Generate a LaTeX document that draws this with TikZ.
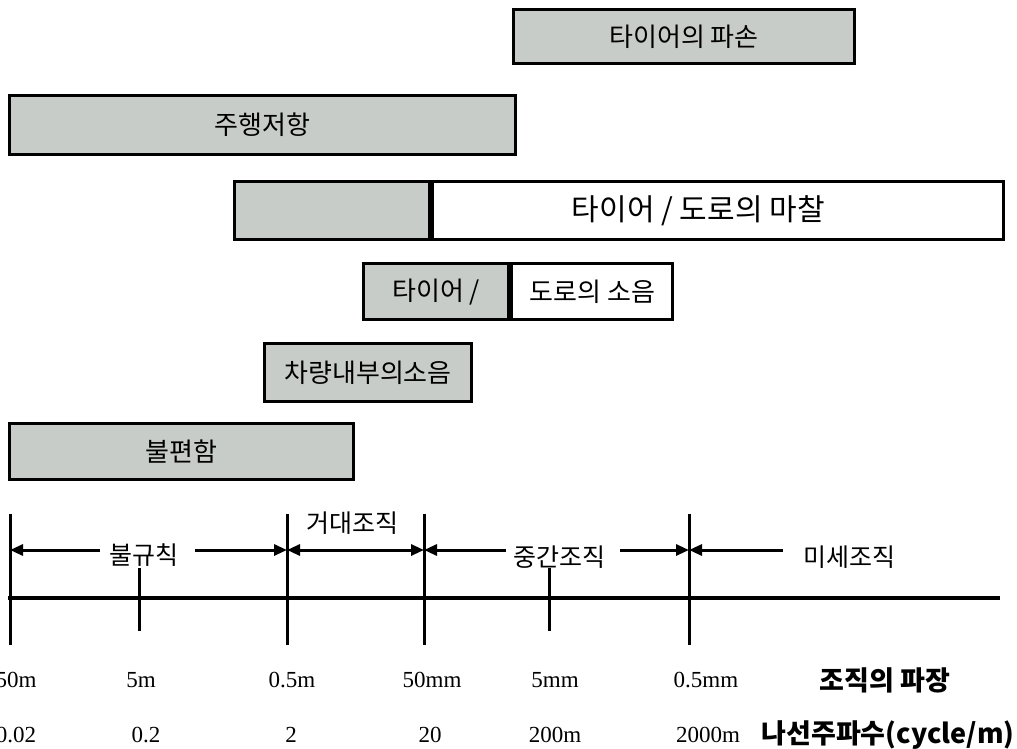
\documentclass[tikz,border=0pt]{standalone}
\usepackage{fontspec}
\setmainfont{Liberation Serif}
\newfontfamily\krfont{Noto Sans CJK KR}
\usetikzlibrary{positioning, arrows.meta}
\definecolor{barfill}{RGB}{200,204,200}

\begin{document}
\begin{tikzpicture}[
    x=1pt, y=-1pt,
    bar/.style={
      draw=black,
      line width=3.2pt,
      fill=barfill,
      anchor=north west,
      inner sep=0pt,
      font=\krfont\fontsize{26}{28}\selectfont
    },
    part/.style={
      bar,
      fill=white
    },
    axis/.style={line width=4pt},
    tick/.style={line width=3pt},
    arr/.style={line width=3pt, -{Triangle[length=13pt,width=11pt]}},
    zone/.style={font=\krfont\fontsize{25}{27}\selectfont, inner sep=0pt},
    val/.style={font=\fontsize{23}{25}\selectfont, inner sep=0pt},
    head/.style={font=\krfont\bfseries\fontsize{27}{29}\selectfont, inner sep=0pt}
  ]
  \useasboundingbox (0,0) rectangle (1017,749);

  \node[bar, minimum width=341pt, minimum height=54pt] (tyre) at (512,8) {타이어의 파손};
  \node[bar, minimum width=506pt, minimum height=59pt] (resist) at (8,94) {주행저항};
  \node[bar, minimum width=195pt, minimum height=58pt] (fricA) at (233,180) {};
  \node[part, minimum width=571pt, minimum height=58pt, right=0pt of fricA,
        font=\krfont\fontsize{30}{32}\selectfont] (fricB) {타이어 / 도로의 마찰\hspace*{40pt}};
  \node[bar, minimum width=145pt, minimum height=56pt] (noiseA) at (362,262) {타이어 /};
  \node[part, minimum width=161pt, minimum height=56pt, right=0pt of noiseA] (noiseB) {도로의 소음};
  \node[bar, minimum width=207pt, minimum height=58pt] (cabin) at (263,342) {차량내부의소음};
  \node[bar, minimum width=344pt, minimum height=56pt] (discomf) at (8,422) {불편함};

  \draw[axis] (8,598) coordinate (ax0) -- (1000,598) coordinate (ax1);
  \foreach \x/\n in {10/v0, 287/v1, 424/v2, 689/v3} {
    \coordinate (\n) at (\x,550);
    \draw[tick] (\x,514) -- (\x,645);
  }
  \foreach \x in {139,549}
    \draw[tick] (\x,568) -- (\x,631);

  \node[zone] (irr) at (144,555) {불규칙};
  \coordinate (irrL) at (100,550);
  \coordinate (irrR) at (195,550);
  \draw[arr] (irrL) -- (v0);
  \draw[arr] (irrR) -- (v1);

  \node[zone] (macro) at (352,523) {거대조직};
  \draw[arr, {Triangle[length=13pt,width=11pt]}-{Triangle[length=13pt,width=11pt]}] (v1) -- (v2);

  \node[zone] (mid) at (559,557) {중간조직};
  \coordinate (midL) at (506,550);
  \coordinate (midR) at (620,550);
  \draw[arr] (midL) -- (v2);
  \draw[arr] (midR) -- (v3);

  \node[zone] (micro) at (849,557) {미세조직};
  \coordinate (microL) at (783,550);
  \draw[arr] (microL) -- (v3);

  \foreach \x/\t [count=\i] in {16/50m, 141/5m, 292/0.5m, 432/50mm, 555/5mm, 706/0.5mm}
    \node[val] (len\i) at (\x,680) {\t};
  \node[head] (lenhead) at (885,680) {조직의 파장};

  \foreach \x/\t [count=\i] in {16/0.02, 146/0.2, 291/2, 430/20, 555/200m, 708/2000m}
    \node[val] (frq\i) at (\x,735) {\t};
  \node[head] (frqhead) at (888,735) {나선주파수(cycle/m)};
\end{tikzpicture}
\end{document}
